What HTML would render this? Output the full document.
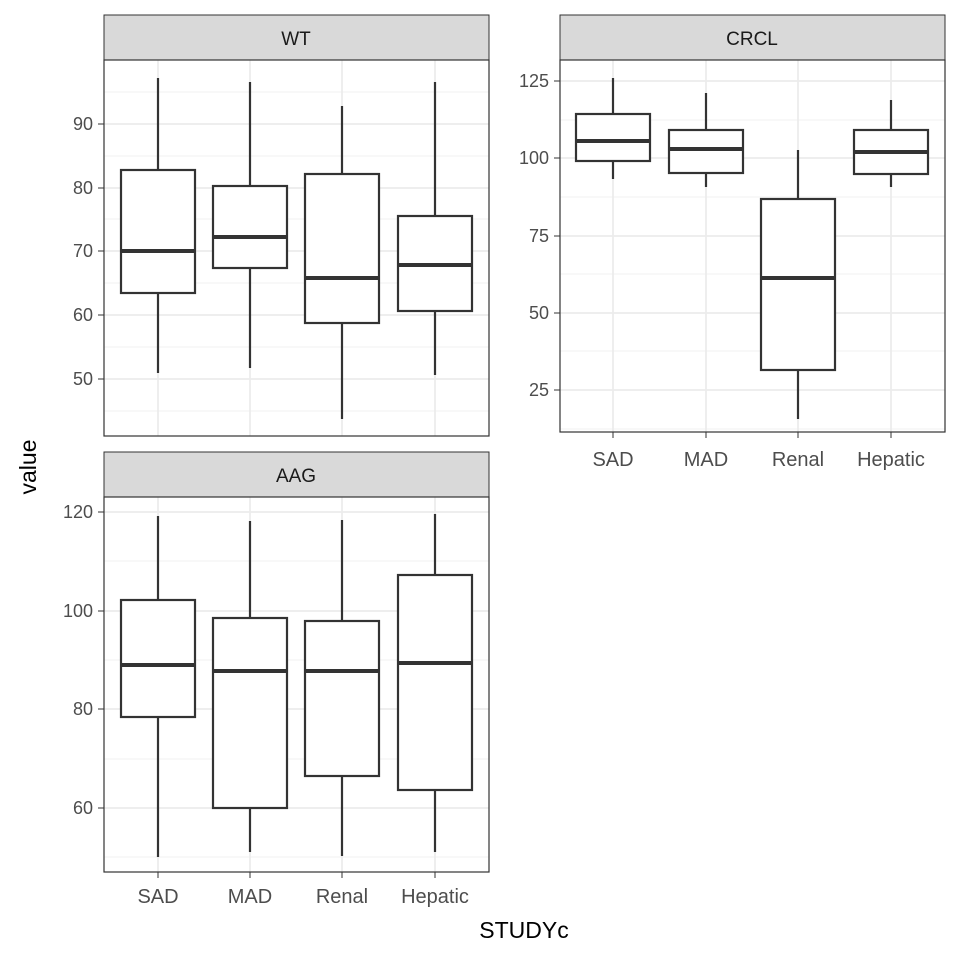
<!DOCTYPE html>
<html><head><style>body{margin:0;background:#fff}</style></head><body>
<svg width="960" height="960" xmlns="http://www.w3.org/2000/svg" font-family="'Liberation Sans', 'DejaVu Sans', sans-serif">
<rect width="960" height="960" fill="#fff"/>
<!-- WT panel -->
<g>
<rect x="104" y="15" width="385" height="45" fill="#d9d9d9" stroke="#333" stroke-width="1"/>
<text x="296" y="45" font-size="19" text-anchor="middle" fill="#1a1a1a">WT</text>
<g stroke="#ebebeb" stroke-width="0.8">
<line x1="104" x2="489" y1="411" y2="411"/><line x1="104" x2="489" y1="347" y2="347"/><line x1="104" x2="489" y1="283" y2="283"/><line x1="104" x2="489" y1="219" y2="219"/><line x1="104" x2="489" y1="156" y2="156"/><line x1="104" x2="489" y1="92" y2="92"/>
</g>
<g stroke="#ebebeb" stroke-width="1.7">
<line x1="104" x2="489" y1="379" y2="379"/><line x1="104" x2="489" y1="315" y2="315"/><line x1="104" x2="489" y1="251" y2="251"/><line x1="104" x2="489" y1="188" y2="188"/><line x1="104" x2="489" y1="124" y2="124"/>
<line x1="158" x2="158" y1="60" y2="436"/><line x1="250" x2="250" y1="60" y2="436"/><line x1="342" x2="342" y1="60" y2="436"/><line x1="435" x2="435" y1="60" y2="436"/>
</g>
<g stroke="#333" stroke-width="2.2" fill="#fff">
<line x1="158" x2="158" y1="78" y2="373"/><rect x="121" y="170" width="74" height="123"/><line x1="121" x2="195" y1="251" y2="251" stroke-width="4"/>
<line x1="250" x2="250" y1="82" y2="368"/><rect x="213" y="186" width="74" height="82"/><line x1="213" x2="287" y1="237" y2="237" stroke-width="4"/>
<line x1="342" x2="342" y1="106" y2="419"/><rect x="305" y="174" width="74" height="149"/><line x1="305" x2="379" y1="278" y2="278" stroke-width="4"/>
<line x1="435" x2="435" y1="82" y2="375"/><rect x="398" y="216" width="74" height="95"/><line x1="398" x2="472" y1="265" y2="265" stroke-width="4"/>
</g>
<rect x="104" y="60" width="385" height="376" fill="none" stroke="#333" stroke-width="1.2"/>
<g font-size="18" fill="#4d4d4d" text-anchor="end">
<text x="93" y="385">50</text><text x="93" y="321">60</text><text x="93" y="257">70</text><text x="93" y="194">80</text><text x="93" y="130">90</text>
</g>
<g stroke="#333"><line x1="98" x2="104" y1="379" y2="379"/><line x1="98" x2="104" y1="315" y2="315"/><line x1="98" x2="104" y1="251" y2="251"/><line x1="98" x2="104" y1="188" y2="188"/><line x1="98" x2="104" y1="124" y2="124"/></g>
</g>
<!-- CRCL -->
<g>
<rect x="560" y="15" width="385" height="45" fill="#d9d9d9" stroke="#333" stroke-width="1"/>
<text x="752" y="45" font-size="19" text-anchor="middle" fill="#1a1a1a">CRCL</text>
<g stroke="#ebebeb" stroke-width="0.8">
<line x1="560" x2="945" y1="429" y2="429"/><line x1="560" x2="945" y1="351" y2="351"/><line x1="560" x2="945" y1="274" y2="274"/><line x1="560" x2="945" y1="197" y2="197"/><line x1="560" x2="945" y1="120" y2="120"/>
</g>
<g stroke="#ebebeb" stroke-width="1.7">
<line x1="560" x2="945" y1="390" y2="390"/><line x1="560" x2="945" y1="313" y2="313"/><line x1="560" x2="945" y1="236" y2="236"/><line x1="560" x2="945" y1="158" y2="158"/><line x1="560" x2="945" y1="81" y2="81"/>
<line x1="613" x2="613" y1="60" y2="432"/><line x1="706" x2="706" y1="60" y2="432"/><line x1="798" x2="798" y1="60" y2="432"/><line x1="891" x2="891" y1="60" y2="432"/>
</g>
<g stroke="#333" stroke-width="2.2" fill="#fff">
<line x1="613" x2="613" y1="78" y2="179"/><rect x="576" y="114" width="74" height="47"/><line x1="576" x2="650" y1="141" y2="141" stroke-width="4"/>
<line x1="706" x2="706" y1="93" y2="187"/><rect x="669" y="130" width="74" height="43"/><line x1="669" x2="743" y1="149" y2="149" stroke-width="4"/>
<line x1="798" x2="798" y1="150" y2="419"/><rect x="761" y="199" width="74" height="171"/><line x1="761" x2="835" y1="278" y2="278" stroke-width="4"/>
<line x1="891" x2="891" y1="100" y2="187"/><rect x="854" y="130" width="74" height="44"/><line x1="854" x2="928" y1="152" y2="152" stroke-width="4"/>
</g>
<rect x="560" y="60" width="385" height="372" fill="none" stroke="#333" stroke-width="1.2"/>
<g font-size="18" fill="#4d4d4d" text-anchor="end">
<text x="549" y="396">25</text><text x="549" y="319">50</text><text x="549" y="242">75</text><text x="549" y="164">100</text><text x="549" y="87">125</text>
</g>
<g stroke="#333"><line x1="554" x2="560" y1="390" y2="390"/><line x1="554" x2="560" y1="313" y2="313"/><line x1="554" x2="560" y1="236" y2="236"/><line x1="554" x2="560" y1="158" y2="158"/><line x1="554" x2="560" y1="81" y2="81"/>
<line x1="613" x2="613" y1="432" y2="438"/><line x1="706" x2="706" y1="432" y2="438"/><line x1="798" x2="798" y1="432" y2="438"/><line x1="891" x2="891" y1="432" y2="438"/></g>
<g font-size="20" fill="#4d4d4d" text-anchor="middle">
<text x="613" y="466">SAD</text><text x="706" y="466">MAD</text><text x="798" y="466">Renal</text><text x="891" y="466">Hepatic</text>
</g>
</g>
<!-- AAG -->
<g>
<rect x="104" y="452" width="385" height="45" fill="#d9d9d9" stroke="#333" stroke-width="1"/>
<text x="296" y="482" font-size="19" text-anchor="middle" fill="#1a1a1a">AAG</text>
<g stroke="#ebebeb" stroke-width="0.8">
<line x1="104" x2="489" y1="857" y2="857"/><line x1="104" x2="489" y1="759" y2="759"/><line x1="104" x2="489" y1="660" y2="660"/><line x1="104" x2="489" y1="561" y2="561"/>
</g>
<g stroke="#ebebeb" stroke-width="1.7">
<line x1="104" x2="489" y1="808" y2="808"/><line x1="104" x2="489" y1="709" y2="709"/><line x1="104" x2="489" y1="611" y2="611"/><line x1="104" x2="489" y1="512" y2="512"/>
<line x1="158" x2="158" y1="497" y2="872"/><line x1="250" x2="250" y1="497" y2="872"/><line x1="342" x2="342" y1="497" y2="872"/><line x1="435" x2="435" y1="497" y2="872"/>
</g>
<g stroke="#333" stroke-width="2.2" fill="#fff">
<line x1="158" x2="158" y1="516" y2="857"/><rect x="121" y="600" width="74" height="117"/><line x1="121" x2="195" y1="665" y2="665" stroke-width="4"/>
<line x1="250" x2="250" y1="521" y2="852"/><rect x="213" y="618" width="74" height="190"/><line x1="213" x2="287" y1="671" y2="671" stroke-width="4"/>
<line x1="342" x2="342" y1="520" y2="856"/><rect x="305" y="621" width="74" height="155"/><line x1="305" x2="379" y1="671" y2="671" stroke-width="4"/>
<line x1="435" x2="435" y1="514" y2="852"/><rect x="398" y="575" width="74" height="215"/><line x1="398" x2="472" y1="663" y2="663" stroke-width="4"/>
</g>
<rect x="104" y="497" width="385" height="375" fill="none" stroke="#333" stroke-width="1.2"/>
<g font-size="18" fill="#4d4d4d" text-anchor="end">
<text x="93" y="814">60</text><text x="93" y="715">80</text><text x="93" y="617">100</text><text x="93" y="518">120</text>
</g>
<g stroke="#333"><line x1="98" x2="104" y1="808" y2="808"/><line x1="98" x2="104" y1="709" y2="709"/><line x1="98" x2="104" y1="611" y2="611"/><line x1="98" x2="104" y1="512" y2="512"/>
<line x1="158" x2="158" y1="872" y2="878"/><line x1="250" x2="250" y1="872" y2="878"/><line x1="342" x2="342" y1="872" y2="878"/><line x1="435" x2="435" y1="872" y2="878"/></g>
<g font-size="20" fill="#4d4d4d" text-anchor="middle">
<text x="158" y="903">SAD</text><text x="250" y="903">MAD</text><text x="342" y="903">Renal</text><text x="435" y="903">Hepatic</text>
</g>
</g>
<text x="524" y="938" font-size="23" text-anchor="middle" fill="#000">STUDYc</text>
<text transform="translate(36,467) rotate(-90)" font-size="23" text-anchor="middle" fill="#000">value</text>
</svg>
</body></html>
